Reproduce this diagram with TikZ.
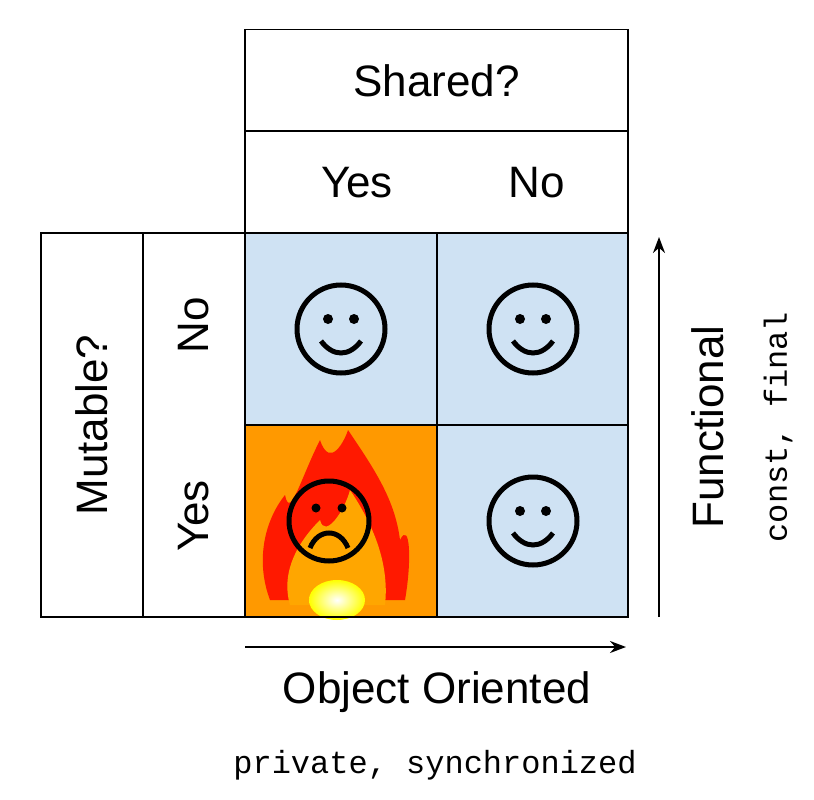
\documentclass[tikz,border=0pt]{standalone}
\usepackage{fontspec}
\setmainfont{Liberation Sans}
\setmonofont{Liberation Mono}
\usetikzlibrary{arrows.meta}
\begin{document}
\begin{tikzpicture}[x=1pt,y=-1pt,
  cellb/.style={draw,line width=1.6pt},
  lbl/.style={font=\fontsize{44}{50}\selectfont},
  mono/.style={font=\ttfamily\fontsize{32}{36}\selectfont},
  face/.style={line width=5pt}]
\useasboundingbox (0,0) rectangle (814,800);
\definecolor{cellblue}{HTML}{CFE2F3}
\definecolor{fireorange}{HTML}{FF9900}
% cells
\fill[cellblue] (245,233) rectangle (628,617);
\fill[fireorange] (245,425) rectangle (437,617);
% flame
\fill[red!80!orange] (270,600) .. controls (255,560) and (265,520) .. (285,495) .. controls (290,520) and (300,480) .. (320,440) .. controls (330,470) and (345,440) .. (348,430) .. controls (375,470) and (395,500) .. (400,540) .. controls (410,520) and (412,560) .. (405,600) -- cycle;
\fill[orange!70!yellow] (290,605) .. controls (280,570) and (300,540) .. (320,520) .. controls (325,540) and (345,510) .. (350,490) .. controls (370,520) and (390,560) .. (385,605) -- cycle;
\shade[inner color=white, outer color=yellow] (337,600) ellipse (28 and 20);
\node[cellb,minimum width=383,minimum height=102,lbl] (sh) at (436.5,80.5) {Shared?};
\draw[cellb] (245,131) rectangle (628,233);
\node[lbl] (yes) at (357,183) {Yes};
\node[lbl] (no) at (537,183) {No};
\draw[cellb] (245,233) rectangle (628,617);
\draw[cellb] (437,233) -- (437,617);
\draw[cellb] (245,425) -- (628,425);
\draw[cellb] (41,233) rectangle (245,617);
\draw[cellb] (143,233) -- (143,617);
\node[lbl,rotate=90] (mut) at (92,425) {Mutable?};
\node[lbl,rotate=90] (mno) at (194,325) {No};
\node[lbl,rotate=90] (myes) at (194,516) {Yes};
% faces
\foreach \cx/\cy in {341/329, 533/329, 533/521}{
  \draw[face] (\cx,\cy) circle (44);
  \fill (\cx-13,\cy-10) circle (5);
  \fill (\cx+13,\cy-10) circle (5);
  \draw[face] (\cx-20,\cy+12) .. controls (\cx-8,\cy+28) and (\cx+8,\cy+28) .. (\cx+20,\cy+12);
}
\draw[face] (329,521) circle (40);
\fill (316,508) circle (4.5);
\fill (342,508) circle (4.5);
\draw[face] (310,548) .. controls (318,528) and (340,528) .. (348,548);
% arrows
\coordinate (v0) at (659,617); \coordinate (v1) at (659,237);
\draw[line width=2pt,-{Stealth[length=16pt,width=12pt]}] (v0) -- (v1);
\coordinate (h0) at (245,647); \coordinate (h1) at (626,647);
\draw[line width=2pt,-{Stealth[length=16pt,width=12pt]}] (h0) -- (h1);
\node[lbl,rotate=90] (fn) at (708,427) {Functional};
\node[mono,rotate=90] (cf) at (778,427) {const, final};
\node[lbl] (oo) at (437,692) {Object Oriented};
\node[mono] (ps) at (435,765) {private, synchronized};
\end{tikzpicture}
\end{document}
